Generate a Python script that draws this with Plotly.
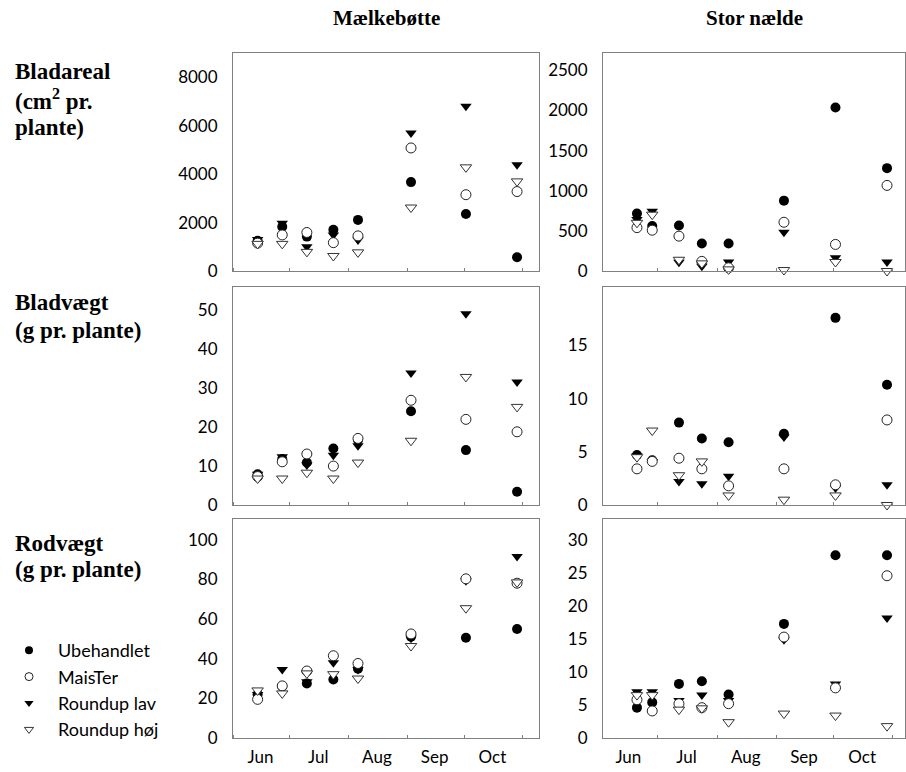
import plotly.graph_objects as go

W, H = 906, 772

# ---------------- data ----------------
dates_m = ["2001-06-14", "2001-06-27", "2001-07-10", "2001-07-24",
           "2001-08-06", "2001-09-03", "2001-10-02", "2001-10-29"]
dates_n = ["2001-06-20", "2001-06-28", "2001-07-12", "2001-07-24",
           "2001-08-07", "2001-09-05", "2001-10-02", "2001-10-29"]

treatments = ["Ubehandlet", "MaisTer", "Roundup lav", "Roundup høj"]
species = ["Mælkebøtte", "Stor nælde"]

# Bladareal (cm2 pr. plante)
areal_m_ube = [1250, 1830, 1420, 1700, 2110, 3670, 2350, 570]
areal_m_mais = [1150, 1490, 1590, 1170, 1450, 5080, 3150, 3280]
areal_m_lav = [1300, 1970, 1000, 1490, 1280, 5700, 6800, 4390]
areal_m_hoj = [1120, 1120, 790, 620, 770, 2620, 4280, 3700]

areal_n_ube = [715, 560, 566, 343, 343, 876, 2037, 1281]
areal_n_mais = [540, 508, 434, 120, 40, 607, 331, 1066]
areal_n_lav = [640, 744, 110, 60, 112, 483, 165, 112]
areal_n_hoj = [600, 702, 140, 95, 20, 12, 112, 0]

# Bladvægt (g pr. plante)
vaegt_m_ube = [7.9, 11.8, 10.9, 14.5, 16.7, 24.1, 14.1, 3.4]
vaegt_m_mais = [7.3, 11.1, 13.1, 10.0, 17.1, 26.9, 22.0, 18.8]
vaegt_m_lav = [7.9, 12.4, 10.3, 12.8, 15.2, 33.9, 49.1, 31.6]
vaegt_m_hoj = [6.8, 6.8, 8.3, 6.8, 10.9, 16.5, 32.9, 25.2]

vaegt_n_ube = [4.7, 4.2, 7.75, 6.25, 5.9, 6.7, 17.6, 11.3]
vaegt_n_mais = [3.4, 4.1, 4.4, 3.4, 1.8, 3.4, 1.9, 8.0]
vaegt_n_lav = [4.6, 4.1, 2.2, 2.0, 2.7, 6.4, 1.6, 1.9]
vaegt_n_hoj = [4.5, 7.0, 2.8, 4.1, 0.9, 0.5, 0.9, 0.0]

# Rodvægt (g pr. plante)
rod_m_ube = [22, 26, 27.5, 29.5, 35, 51.1, 50.6, 55.0]
rod_m_mais = [19.5, 26.3, 33.8, 41.5, 37.6, 52.5, 80.3, 78.1]
rod_m_lav = [22, 34.6, 28.4, 38.0, 34.6, 50.3, 79.3, 91.6]
rod_m_hoj = [24, 22.5, 32.6, 32.2, 30.0, 46.4, 65.5, 78.5]

rod_n_ube = [4.6, 5.4, 8.2, 8.6, 6.6, 17.3, 27.7, 27.7]
rod_n_mais = [5.8, 4.1, 5.2, 4.6, 5.2, 15.3, 7.6, 24.6]
rod_n_lav = [7.0, 7.0, 5.7, 6.5, 5.7, 14.9, 8.2, 18.2]
rod_n_hoj = [6.5, 6.5, 4.3, 4.5, 2.4, 3.7, 3.4, 1.8]

row_labels = [["Bladareal", "(cm<sup>2</sup> pr.", "plante)"],
              ["Bladvægt", "(g pr. plante)"],
              ["Rodvægt", "(g pr. plante)"]]

yticks = [[[0, 2000, 4000, 6000, 8000], [0, 500, 1000, 1500, 2000, 2500]],
          [[0, 10, 20, 30, 40, 50], [0, 5, 10, 15]],
          [[0, 20, 40, 60, 80, 100], [0, 5, 10, 15, 20, 25, 30]]]
yranges = [[[0, 9000], [0, 2715]],
           [[0, 56], [0, 20.5]],
           [[0, 110.5], [0, 33.2]]]

month_mid = ["2001-06-15 12:00", "2001-07-16", "2001-08-16", "2001-09-15 12:00", "2001-10-16"]
month_lab = ["Jun", "Jul", "Aug", "Sep", "Oct"]

panels = [
    [(areal_m_ube, areal_m_mais, areal_m_lav, areal_m_hoj),
     (areal_n_ube, areal_n_mais, areal_n_lav, areal_n_hoj)],
    [(vaegt_m_ube, vaegt_m_mais, vaegt_m_lav, vaegt_m_hoj),
     (vaegt_n_ube, vaegt_n_mais, vaegt_n_lav, vaegt_n_hoj)],
    [(rod_m_ube, rod_m_mais, rod_m_lav, rod_m_hoj),
     (rod_n_ube, rod_n_mais, rod_n_lav, rod_n_hoj)],
]
dates = [dates_m, dates_n]

# ---------------- style ----------------
styles = {
    "Ubehandlet": dict(symbol="circle", color="black", line=dict(width=0, color="black")),
    "MaisTer": dict(symbol="circle", color="white", line=dict(width=1, color="#222")),
    "Roundup lav": dict(symbol="triangle-down", color="black", line=dict(width=0, color="black")),
    "Roundup høj": dict(symbol="triangle-down", color="white", line=dict(width=1, color="#333")),
}
draw_order = [2, 0, 1, 3]  # indices into treatments

xdom = [[233 / W, 539 / W], [603 / W, 905 / W]]
ydom_px = [(53, 271), (287, 505), (519, 738)]
xranges = [["2001-06-01", "2001-11-09 14:00"], ["2001-06-02 05:00", "2001-11-07 10:00"]]

tick_font = dict(family="Lato", size=17, color="black")
AX_COL = "#808080"

fig = go.Figure()

# legend entries (smaller symbols, as in the reference legend)
for ti, name in enumerate(treatments):
    st = styles[name]
    fig.add_trace(go.Scatter(
        x=[None], y=[None], mode="markers", name=name, legendrank=ti + 1,
        showlegend=True, hoverinfo="skip",
        marker=dict(symbol=st["symbol"], size=8, color=st["color"],
                    line=dict(width=st["line"]["width"], color=st["line"]["color"])),
    ))

layout = {}
for r in range(3):
    for c in range(2):
        idx = r * 2 + c + 1
        xa = "x" if idx == 1 else f"x{idx}"
        ya = "y" if idx == 1 else f"y{idx}"
        for ti in draw_order:
            name = treatments[ti]
            st = styles[name]
            fig.add_trace(go.Scatter(
                x=dates[c], y=panels[r][c][ti], mode="markers", name=name,
                xaxis=xa, yaxis=ya, cliponaxis=False, showlegend=False,
                marker=dict(symbol=st["symbol"], size=10, color=st["color"], line=st["line"]),
            ))
        y0, y1 = ydom_px[r]
        layout[f"xaxis{'' if idx == 1 else idx}"] = dict(
            domain=xdom[c], anchor=ya, type="date", range=xranges[c],
            showline=True, mirror=True, linecolor=AX_COL, linewidth=1,
            showgrid=False, zeroline=False,
            tickmode="array", tickvals=month_mid, ticktext=month_lab,
            showticklabels=(r == 2),
            ticks="", tickfont=tick_font, ticklabelstandoff=4,
            minor=dict(dtick="M1", tick0="2001-06-01", ticks="inside", ticklen=3,
                       tickcolor=AX_COL, showgrid=False),
        )
        layout[f"yaxis{'' if idx == 1 else idx}"] = dict(
            domain=[(H - y1) / H, (H - y0) / H], anchor=xa, range=yranges[r][c],
            showline=True, mirror=True, linecolor=AX_COL, linewidth=1,
            showgrid=False, zeroline=False,
            tickmode="array", tickvals=yticks[r][c], ticks="",
            tickfont=tick_font, ticklabelstandoff=11,
        )

annotations = []
# column titles
for c, sp in enumerate(species):
    annotations.append(dict(
        text=f"<b>{sp}</b>", xref="paper", yref="paper",
        x=(xdom[c][0] + xdom[c][1]) / 2, y=(H - 18) / H,
        xanchor="center", yanchor="middle", showarrow=False,
        font=dict(family="Liberation Serif", size=21, color="black")))
# row labels
row_line_y = [[71, 99, 127], [303, 330], [543, 569]]
for r, lines in enumerate(row_labels):
    for li, txt in enumerate(lines):
        annotations.append(dict(
            text=f"<b>{txt}</b>", xref="paper", yref="paper",
            x=13 / W, y=(H - row_line_y[r][li]) / H,
            xanchor="left", yanchor="middle", showarrow=False,
            font=dict(family="Liberation Serif", size=23, color="black")))

fig.update_layout(
    width=W, height=H, margin=dict(l=0, r=0, t=0, b=0, autoexpand=False),
    paper_bgcolor="white", plot_bgcolor="white",
    annotations=annotations,
    legend=dict(x=0, y=(H - 632) / H, xanchor="left", yanchor="top",
                font=dict(family="Lato", size=18, color="black"),
                itemwidth=48, bgcolor="rgba(0,0,0,0)", tracegroupgap=0),
    **layout,
)

fig.write_html("out.html")
